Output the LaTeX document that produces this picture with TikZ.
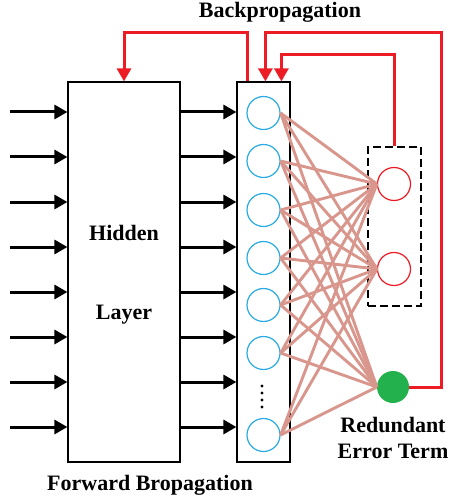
\documentclass[tikz,border=0pt]{standalone}
\usepackage{fontspec}
\setmainfont{Liberation Serif}
\usetikzlibrary{arrows.meta}

\definecolor{neuronblue}{RGB}{41,170,226}
\definecolor{errred}{RGB}{237,28,36}
\definecolor{termgreen}{RGB}{34,177,76}
\definecolor{linkpink}{RGB}{216,150,140}

\tikzset{
  lbl/.style={font=\fontsize{22bp}{27bp}\selectfont\bfseries, inner sep=0pt, align=center},
  layerbox/.style={draw, line width=1.2bp, inner sep=0pt, minimum height=380bp},
  neuron/.style={circle, draw=neuronblue, line width=1.2bp, minimum size=33bp, inner sep=0pt},
  outunit/.style={circle, draw=errred, line width=1.2bp, minimum size=33bp, inner sep=0pt},
  fwd/.style={line width=3bp, -{Triangle[length=13bp,width=14bp]}},
  back/.style={errred, line width=3bp, -{Triangle[length=13bp,width=14bp]}},
  link/.style={linkpink, line width=2.9bp},
}

\begin{document}
\begin{tikzpicture}[x=1bp,y=-1bp]
\useasboundingbox (0,0) rectangle (449,502);

% the two layers
\node[layerbox, minimum width=112bp] (hid) at (124,272) {};
\node[lbl, anchor=base] at (124,240) {Hidden};
\node[lbl, anchor=base] at (124,319) {Layer};
\node[layerbox, minimum width=53bp] (nbox) at (263.5,272) {};

% forward arrows
\foreach \y [count=\i] in {112,157,...,427} {
  \coordinate (in\i) at (10,\y);
  \draw[fwd] (in\i) -- (in\i -| hid.west);
  \draw[fwd] (hid.east |- in\i) -- (nbox.west |- in\i);
}

% neurons
\foreach \y [count=\i] in {113,161,210,258,305,353,435}
  \node[neuron] (n\i) at (263.5,\y) {};
\foreach \d in {386,393,400,407}
  \fill (262,\d) circle (1.7bp);

% output units
\node[draw, line width=1.2bp, dash pattern=on 8bp off 4bp, inner sep=0pt,
      minimum width=53bp, minimum height=159bp] (dbox) at (394.5,226.5) {};
\node[outunit] (r1) at (394,184) {};
\node[outunit] (r2) at (394,269) {};
\node[circle, fill=termgreen, minimum size=32bp, inner sep=0pt] (err) at (393,387) {};
\node[lbl, anchor=base] at (393,432) {Redundant};
\node[lbl, anchor=base] at (393,458) {Error Term};

% full connections
\foreach \i in {1,...,7}
  \foreach \t in {r1,r2,err}
    \draw[link] (n\i.east) -- (\t.west);

% backpropagation paths
\coordinate (rc) at (441,33);
\draw[back] ([xshift=11bp]nbox.north west) |- ([yshift=49bp]hid.north) -- (hid.north);
\draw[back] (dbox.north) |- ([xshift=45bp,yshift=27bp]nbox.north west) -- ([xshift=45bp]nbox.north west);
\draw[back] (err.east) -| (rc) -| ([xshift=29bp]nbox.north west);

\node[lbl, anchor=base] at (280,17.5) {Backpropagation};
\node[lbl, anchor=base] at (150,490) {Forward Bropagation};
\end{tikzpicture}
\end{document}
